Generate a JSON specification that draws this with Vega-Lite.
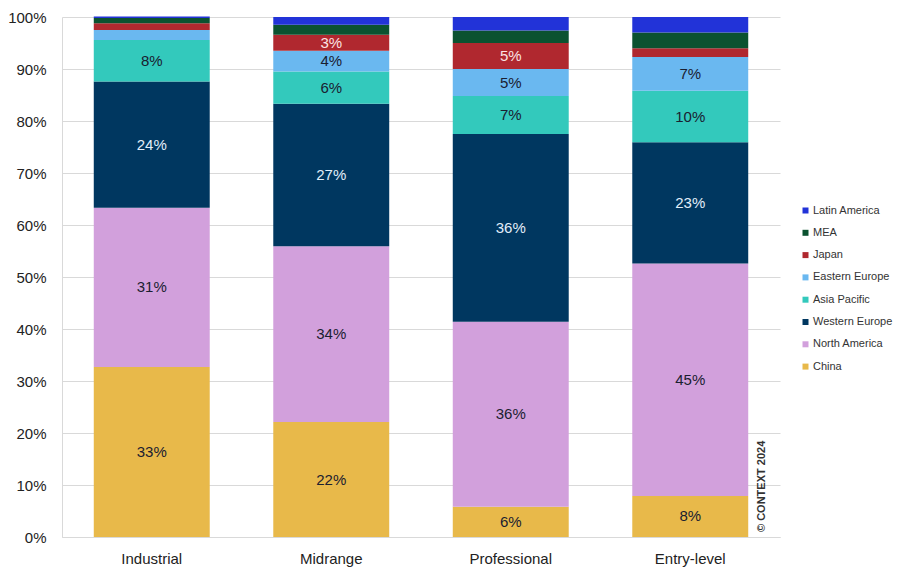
{
  "$schema": "https://vega.github.io/schema/vega-lite/v6.json",
  "width": 718,
  "height": 520,
  "autosize": {"type": "none"},
  "padding": {"left": 62, "top": 17, "right": 124, "bottom": 43},
  "background": "white",
  "config": {
    "view": {"stroke": null},
    "font": "Liberation Sans",
    "axis": {"labelFont": "Liberation Sans", "labelColor": "#222222", "labelFontSize": 15}
  },
  "datasets": {
    "shares": [
      {"segment": "Industrial", "region": "China", "value": 32.7},
      {"segment": "Industrial", "region": "North America", "value": 30.6},
      {"segment": "Industrial", "region": "Western Europe", "value": 24.3},
      {"segment": "Industrial", "region": "Asia Pacific", "value": 8.0},
      {"segment": "Industrial", "region": "Eastern Europe", "value": 1.9},
      {"segment": "Industrial", "region": "Japan", "value": 1.3},
      {"segment": "Industrial", "region": "MEA", "value": 1.0},
      {"segment": "Industrial", "region": "Latin America", "value": 0.3},
      {"segment": "Midrange", "region": "China", "value": 22.1},
      {"segment": "Midrange", "region": "North America", "value": 33.8},
      {"segment": "Midrange", "region": "Western Europe", "value": 27.4},
      {"segment": "Midrange", "region": "Asia Pacific", "value": 6.2},
      {"segment": "Midrange", "region": "Eastern Europe", "value": 4.0},
      {"segment": "Midrange", "region": "Japan", "value": 3.1},
      {"segment": "Midrange", "region": "MEA", "value": 1.9},
      {"segment": "Midrange", "region": "Latin America", "value": 1.5},
      {"segment": "Professional", "region": "China", "value": 5.8},
      {"segment": "Professional", "region": "North America", "value": 35.6},
      {"segment": "Professional", "region": "Western Europe", "value": 36.1},
      {"segment": "Professional", "region": "Asia Pacific", "value": 7.3},
      {"segment": "Professional", "region": "Eastern Europe", "value": 5.2},
      {"segment": "Professional", "region": "Japan", "value": 5.0},
      {"segment": "Professional", "region": "MEA", "value": 2.4},
      {"segment": "Professional", "region": "Latin America", "value": 2.6},
      {"segment": "Entry-level", "region": "China", "value": 7.9},
      {"segment": "Entry-level", "region": "North America", "value": 44.7},
      {"segment": "Entry-level", "region": "Western Europe", "value": 23.3},
      {"segment": "Entry-level", "region": "Asia Pacific", "value": 9.9},
      {"segment": "Entry-level", "region": "Eastern Europe", "value": 6.5},
      {"segment": "Entry-level", "region": "Japan", "value": 1.7},
      {"segment": "Entry-level", "region": "MEA", "value": 3.0},
      {"segment": "Entry-level", "region": "Latin America", "value": 3.0}
    ],
    "note": [{"segment": "Entry-level", "text": "© CONTEXT 2024"}]
  },
  "layer": [
    {
      "data": {"name": "shares"},
      "transform": [
        {"calculate": "indexof(['China','North America','Western Europe','Asia Pacific','Eastern Europe','Japan','MEA','Latin America'], datum.region)", "as": "stackIdx"},
        {"stack": "value", "groupby": ["segment"], "sort": [{"field": "stackIdx", "order": "ascending"}], "as": ["v0", "v1"]},
        {"calculate": "(datum.v0 + datum.v1) / 2", "as": "mid"},
        {"calculate": "format(datum.value, '.0f') + '%'", "as": "label"}
      ],
      "layer": [
        {
          "mark": {"type": "bar"},
          "encoding": {
            "x": {
              "field": "segment", "type": "nominal",
              "sort": ["Industrial", "Midrange", "Professional", "Entry-level"],
              "scale": {"paddingInner": 0.354, "paddingOuter": 0.177},
              "axis": {"title": null, "labelAngle": 0, "ticks": false, "domainColor": "#d9d9d9", "labelPadding": 14, "labelFontSize": 15}
            },
            "y": {
              "field": "v1", "type": "quantitative",
              "scale": {"domain": [0, 100], "nice": false},
              "axis": {"title": null, "values": [0,10,20,30,40,50,60,70,80,90,100], "labelExpr": "datum.value + '%'", "ticks": false, "domain": true, "domainColor": "#d9d9d9", "gridColor": "#d9d9d9", "labelPadding": 16, "labelFontSize": 15}
            },
            "y2": {"field": "v0"},
            "color": {
              "field": "region", "type": "nominal",
              "scale": {
                "domain": ["Latin America", "MEA", "Japan", "Eastern Europe", "Asia Pacific", "Western Europe", "North America", "China"],
                "range": ["#2233D8", "#0B5230", "#B0282F", "#6AB8F0", "#33C9BC", "#003760", "#D2A0DC", "#E8B94A"]
              },
              "legend": {
                "title": null, "orient": "none", "legendX": 738, "legendY": 188,
                "symbolType": "square", "symbolSize": 36, "symbolStrokeWidth": 0,
                "labelFontSize": 11, "labelColor": "#333333", "rowPadding": 10.3, "labelOffset": 2
              }
            }
          }
        },
        {
          "transform": [
            {"filter": "datum.value >= 2.95 && datum.region != 'MEA' && datum.region != 'Latin America'"}
          ],
          "mark": {"type": "text", "font": "Liberation Sans", "fontSize": 15, "baseline": "middle", "align": "center"},
          "encoding": {
            "x": {"field": "segment", "type": "nominal", "sort": ["Industrial", "Midrange", "Professional", "Entry-level"]},
            "y": {"field": "mid", "type": "quantitative"},
            "text": {"field": "label", "type": "nominal"},
            "color": {
              "condition": [
                {"test": "datum.region == 'Western Europe'", "value": "#E2EEFA"},
                {"test": "datum.region == 'Japan'", "value": "#FBE3E3"}
              ],
              "value": "#1A2030"
            }
          }
        }
      ]
    },
    {
      "data": {"name": "note"},
      "mark": {"type": "text", "angle": -90, "fontSize": 11, "fontWeight": "bold", "color": "#333333", "align": "left", "baseline": "middle", "dx": 5, "dy": 72},
      "encoding": {
        "x": {"field": "segment", "type": "nominal", "sort": ["Industrial", "Midrange", "Professional", "Entry-level"]},
        "y": {"datum": 0},
        "text": {"field": "text"}
      }
    }
  ]
}
